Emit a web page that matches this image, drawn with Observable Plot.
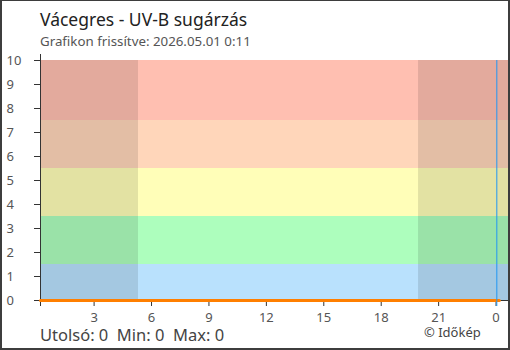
<!DOCTYPE html>
<html>
<head>
<meta charset="utf-8">
<script src="https://cdn.jsdelivr.net/npm/d3@7"></script>
<script src="https://cdn.jsdelivr.net/npm/@observablehq/plot@0.6"></script>
<style>
  html, body { margin: 0; padding: 0; background: #fff; }
  #wrap { position: relative; width: 510px; height: 350px; overflow: hidden; font-family: "Noto Sans", sans-serif; }
  #border { position: absolute; left: 0; top: 0; width: 510px; height: 350px; box-sizing: border-box; border: 2px solid #3d3d3d; border-top-width: 1px; pointer-events: none; }
  #chart { position: absolute; left: 0; top: 0; }
  .t { position: absolute; white-space: nowrap; line-height: 1; }
  #title { left: 40px; top: 11px; font-size: 17.5px; color: #222; }
  #subtitle { left: 40px; top: 35px; font-size: 13.3px; color: #555; }
  #stats { left: 40px; top: 327px; font-size: 16.5px; color: #444; }
  #credit { left: 424px; top: 326px; font-size: 13px; color: #444; }
</style>
</head>
<body>
<div id="wrap">
  <div id="chart"></div>
  <div class="t" id="title">Vácegres - UV-B sugárzás</div>
  <div class="t" id="subtitle">Grafikon frissítve: 2026.05.01 0:11</div>
  <div class="t" id="stats">Utolsó: 0&nbsp;&nbsp;Min: 0&nbsp;&nbsp;Max: 0</div>
  <div class="t" id="credit">© Időkép</div>
  <div id="border"></div>
</div>
<script>
// Time axis in hours (24 = next midnight)
const xDomain = [0.2, 24.65];
const yDomain = [0, 10];

// UV category bands
const bandLow  = [0, 1.5, 3.5, 5.5, 7.5];
const bandHigh = [1.5, 3.5, 5.5, 7.5, 10];
const bandColors = ["#b9e1fd", "#adfebd", "#fffeb8", "#ffd6ba", "#ffbfb1"];

// Night periods (before sunrise, after sunset)
const nightStart = [0.2, 19.95];
const nightEnd   = [5.32, 24.65];

// Measurements (UV-B)
const times  = [0.2, 1, 2, 3, 4, 5, 6, 7, 8, 9, 10, 11, 12, 13, 14, 15, 16, 17, 18, 19, 20, 21, 22, 23, 24, 24.17];
const values = [0,   0, 0, 0, 0, 0, 0, 0, 0, 0, 0,  0,  0,  0,  0,  0,  0,  0,  0,  0,  0,  0,  0,  0,  0,  0];

// Current time marker
const nowTime = [24.04];

// Tick labels
const xTicks = [3, 6, 9, 12, 15, 18, 21, 24];
const yTicks = [0, 1, 2, 3, 4, 5, 6, 7, 8, 9, 10];

const bands = bandLow.map((lo, i) => ({lo, hi: bandHigh[i], c: bandColors[i]}));
const nights = nightStart.map((s, i) => ({s, e: nightEnd[i]}));
const series = times.map((t, i) => ({t, v: values[i]}));

const plot = Plot.plot({
  width: 510,
  height: 350,
  marginTop: 60,
  marginBottom: 50,
  marginLeft: 40,
  marginRight: 2,
  style: {fontFamily: "'Noto Sans', sans-serif", fontSize: "13px", color: "#555", background: "transparent"},
  x: {domain: xDomain, axis: null},
  y: {domain: yDomain, axis: null},
  marks: [
    Plot.rect(bands, {x1: xDomain[0], x2: xDomain[1], y1: "lo", y2: "hi", fill: "c"}),
    Plot.rect(nights, {x1: "s", x2: "e", y1: yDomain[0], y2: yDomain[1], fill: "#000", fillOpacity: 0.11}),
    Plot.axisY({ticks: yTicks, tickSize: 6, tickFormat: () => "", stroke: "#333"}),
    Plot.axisY({ticks: yTicks, tickSize: 0, tickPadding: 0, textAnchor: "start", dx: -34, fill: "#555", fontSize: 13}),
    Plot.axisX({ticks: xTicks, tickSize: 6, tickPadding: 6, tickFormat: d => String(d % 24), stroke: "#333", fill: "#555", fontSize: 13}),
    Plot.ruleY([0], {stroke: "#333", strokeWidth: 1}),
    Plot.ruleX([xDomain[0]], {y1: -0.25, y2: 10.25, stroke: "#333", strokeWidth: 1}),
    Plot.line(series, {x: "t", y: "v", stroke: "#ff7f00", strokeWidth: 3}),
    Plot.ruleX(nowTime, {y1: -0.25, y2: yDomain[1], stroke: "#2196f3", strokeWidth: 1})
  ]
});
document.getElementById("chart").appendChild(plot);
</script>
</body>
</html>
